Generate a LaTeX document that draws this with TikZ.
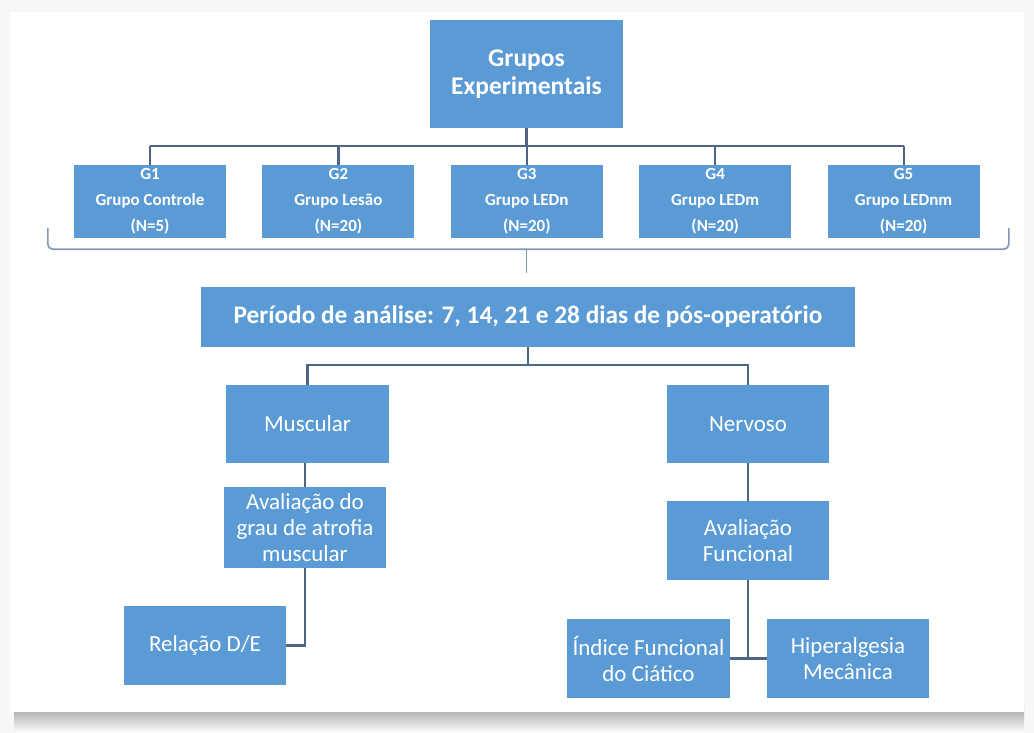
\documentclass[tikz,border=0pt]{standalone}
\usepackage{fontspec}
\setmainfont{Carlito}
\usetikzlibrary{positioning, backgrounds}

\definecolor{boxblue}{RGB}{91,155,213}
\definecolor{linkgray}{RGB}{78,102,132}
\definecolor{bracegray}{RGB}{130,152,178}

\begin{document}
\begin{tikzpicture}[x=1pt, y=-1pt]
      \tikzset{
  box/.style={
    rectangle, fill=boxblue, draw=none, text=white, align=center,
    inner sep=2pt
  },
  head/.style   ={box, minimum width=193pt, minimum height=108pt,
                  font=\fontsize{25.5}{28}\selectfont\bfseries},
  grp/.style    ={box, minimum width=152pt, minimum height=73pt,
                  font=\fontsize{17}{26}\selectfont\bfseries},
  period/.style ={box, minimum width=654pt, minimum height=60pt,
                  font=\fontsize{25.3}{28}\selectfont\bfseries},
  leaf/.style   ={box, minimum width=162pt, minimum height=79pt,
                  font=\fontsize{23}{26}\selectfont},
  link/.style={draw=linkgray, line width=2.2pt},
  bracket/.style={draw=bracegray, line width=1.6pt, rounded corners=5pt},
}

%% ---- FRAME ----
\useasboundingbox (0,0) rectangle (1034,733);
\fill[gray!6] (0,0) rectangle (1034,733);
\shade[top color=gray!75, bottom color=white] (14,706) rectangle (1024,733);
\fill[white] (10,12) rectangle (1024,712);

%% ---- TOP ----
\node[head] (top) at (526.5,74) {Grupos\\Experimentais};

%% ---- GROUPS ----
\node[grp] (g1) at (150,201.5) {G1\\Grupo Controle\\(N=5)};
\node[grp, right=36pt of g1] (g2) {G2\\Grupo Lesão\\(N=20)};
\node[grp, right=36pt of g2] (g3) {G3\\Grupo LEDn\\(N=20)};
\node[grp, right=36pt of g3] (g4) {G4\\Grupo LEDm\\(N=20)};
\node[grp, right=36pt of g4] (g5) {G5\\Grupo LEDnm\\(N=20)};

\coordinate (gbus) at (0,146);
\draw[link] (top.south) -- (top.south |- gbus);
\draw[link] (g1.north |- gbus) -- (g5.north |- gbus);
\foreach \g in {g1,g2,g3,g4,g5}
  \draw[link] (\g.north) -- (\g.north |- gbus);

%% brace under the groups
\coordinate (bl) at ([xshift=-26pt, yshift=10pt]g1.south west);
\coordinate (br) at ([xshift=29pt, yshift=10pt]g5.south east);
\draw[bracket] (bl) -- ++(0,21) -| (br);
\coordinate (btip) at (526.5,273);
\draw[bracket] (btip |- 0,249) -- (btip);

%% ---- PERIOD ----
\node[period] (per) at (528,317) {Período de análise: 7, 14, 21 e 28 dias de pós-operatório};

%% ---- BRANCHES ----
\node[leaf, minimum width=163pt, minimum height=78pt] (musc) at (307.5,424) {Muscular};
\node[leaf, minimum height=78pt] (nerv) at (748,424) {Nervoso};

\coordinate (pbus) at (0,365);
\draw[link] (per.south) -- (per.south |- pbus);
\draw[link] (musc.north) |- (per.south |- pbus) -| (nerv.north);

%% muscular side
\node[leaf, minimum height=81pt] (atrof) at (305,527.5) {Avaliação do\\grau de atrofia\\muscular};
\node[leaf] (rel) at (205,645.5) {Relação D/E};

\draw[link] (atrof.north |- musc.south) -- (atrof.north);
\draw[link] (atrof.south) |- (rel.east);

%% nervous side
\node[leaf] (func) at (748,540.5) {Avaliação\\Funcional};
\node[leaf, minimum width=163pt] (ind) at (648.5,658.5) {Índice Funcional\\do Ciático};
\node[leaf] (hip) at (848,658.5) {Hiperalgesia\\Mecânica};

\draw[link] (nerv.south) -- (func.north);
\draw[link] (func.south) -- (func.south |- ind.east);
\draw[link] (ind.east) -- (hip.west);

    \end{tikzpicture}
\end{document}
